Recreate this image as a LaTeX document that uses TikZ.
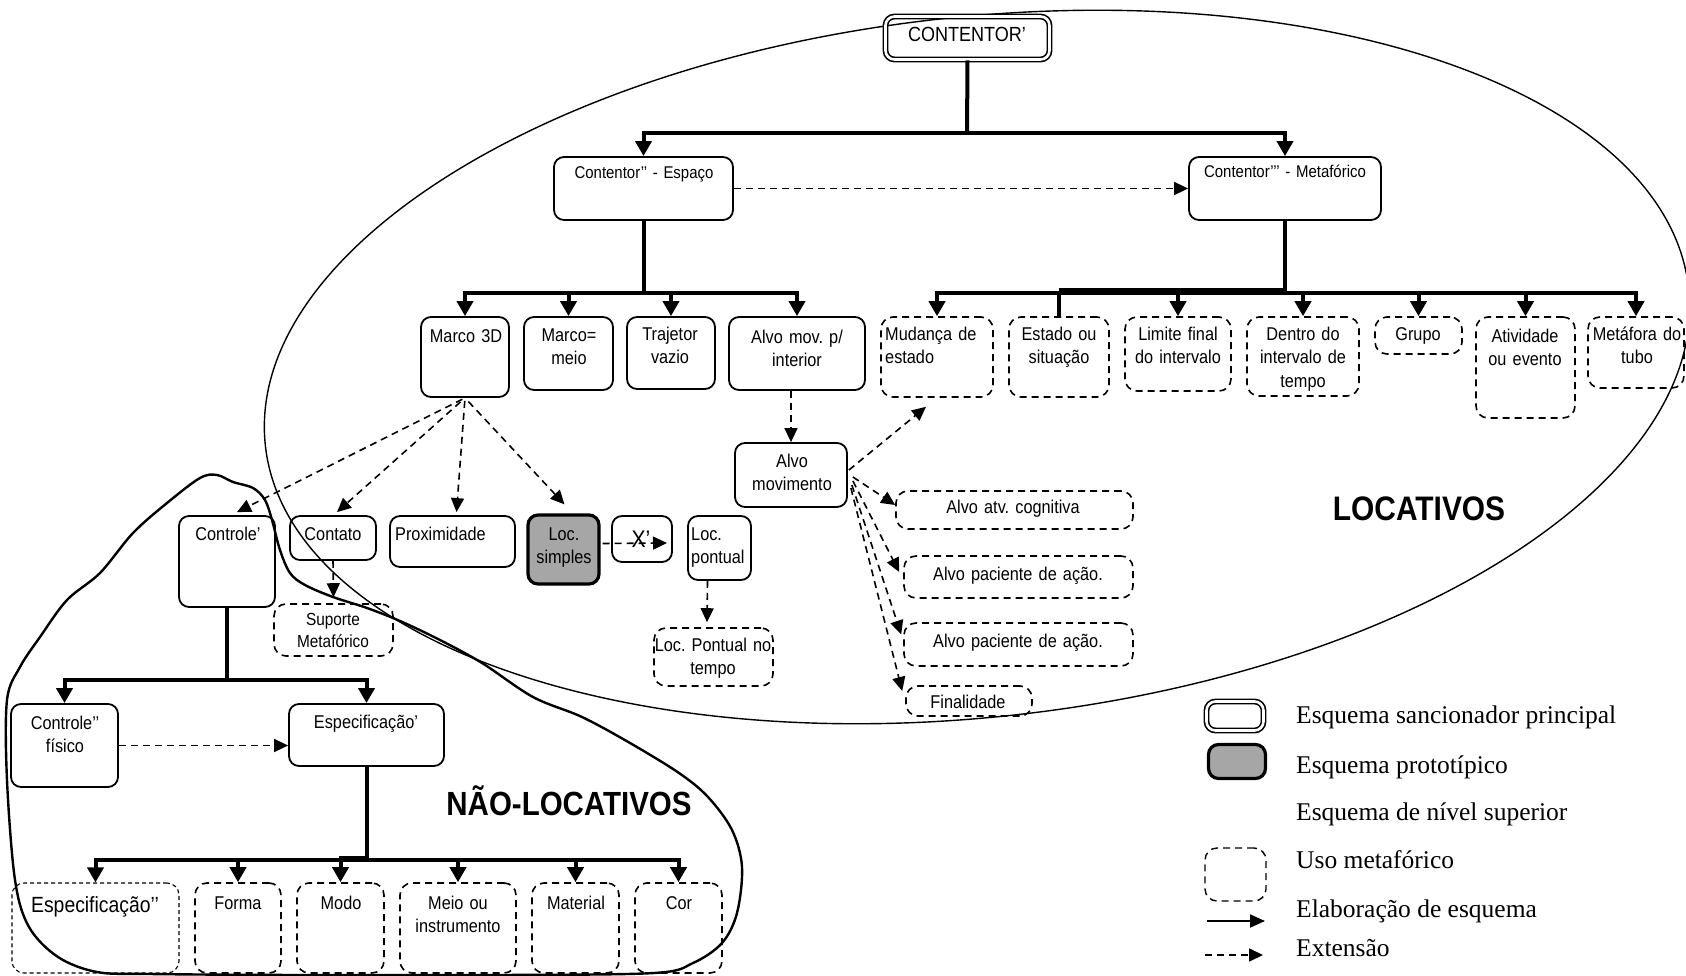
\documentclass[tikz,border=0pt]{standalone}
\usepackage{fontspec}
\usepackage{graphicx}
\usetikzlibrary{arrows.meta,fit,calc}
\newfontfamily\af[FakeStretch=0.88,WordSpace=0.85]{Liberation Sans}
\newfontfamily\tf{Liberation Serif}
\definecolor{protgray}{RGB}{166,166,166}
\frenchspacing
\begin{document}
\begin{tikzpicture}[x=1pt,y=-1pt,
  bx/.style={draw, line width=1.8pt, rounded corners=10pt, inner sep=0pt},
  dbx/.style={draw, line width=1.6pt, dash pattern=on 7pt off 5pt, rounded corners=12pt, inner sep=0pt},
  fdbx/.style={draw, line width=1.1pt, dash pattern=on 4pt off 3pt, rounded corners=12pt, inner sep=0pt},
  dblbx/.style={draw, double, double distance=2.6pt, line width=1.6pt, rounded corners=9pt, inner sep=0pt},
  protbx/.style={draw, fill=protgray, line width=3.2pt, rounded corners=10pt, inner sep=0pt},
  lbl/.style={inner sep=0pt, font=\af\fontsize{18.5}{23.5}\selectfont, text width=300pt, align=center, anchor=base},
  lbll/.style={inner sep=0pt, font=\af\fontsize{18.5}{23.5}\selectfont, text width=300pt, align=left, anchor=base west},
  leg/.style={inner sep=0pt, font=\tf\fontsize{25.5}{30}\selectfont, anchor=base west},
  thk/.style={line width=4pt},
  elab/.style={line width=4pt, -{Triangle[length=15pt,width=16pt]}},
  ext/.style={line width=1.6pt, dash pattern=on 7pt off 5pt, -{Triangle[length=14pt,width=13pt]}},
]
\fill[white] (0,0) rectangle (1686,976);
\useasboundingbox (0,0) rectangle (1686,976);

% regions
\draw[line width=1.4pt, rotate around={6.33:(977,367)}] (977,367) ellipse [x radius=716, y radius=350];
\draw[line width=2.4pt] plot[smooth cycle, tension=0.55] coordinates {
 (217,475) (233,482) (253,488) (265,500) (272,520) (280,550) (290,573) (305,585)
 (333,597) (367,608) (400,621) (440,640) (482,663) (533,697) (582,717) (630,743)
 (679,773) (708,797) (732,830) (742,867) (737,913) (722,943) (693,963) (654,973)
 (500,975) (300,975) (150,974) (97,972) (58,957) (29,927) (15,880) (7,780)
 (7,700) (20,667) (40,637) (67,600) (100,573) (133,533) (167,503) (200,478)};

% boxes
\node[dblbx, fit={(885.5,16.5) (1049.5,59.5)}] (ctr0) {};
\node[bx, fit={(554,157) (733,220)}] (esp) {};
\node[bx, fit={(1189,157) (1381,220)}] (meta) {};
\node[bx, fit={(421,317) (509,397)}] (m3d) {};
\node[bx, fit={(524,317) (613,390)}] (meio) {};
\node[bx, fit={(627,317) (715,389)}] (traj) {};
\node[bx, fit={(729,317) (865,390)}] (alvomi) {};
\node[dbx, fit={(881,317) (993,397)}] (mud) {};
\node[dbx, fit={(1009,317) (1109,397)}] (est) {};
\node[dbx, fit={(1125,317) (1231,391)}] (lim) {};
\node[dbx, fit={(1247,317) (1359,396)}] (den) {};
\node[dbx, fit={(1375,317) (1462,354)}] (gru) {};
\node[dbx, fit={(1476,317) (1575,418)}] (ati) {};
\node[dbx, fit={(1588,317) (1684,388)}] (met) {};
\node[bx, fit={(735,443) (847,507)}] (alvom) {};
\node[dbx, fit={(896,491) (1133,529)}] (atv) {};
\node[dbx, fit={(904,556) (1133,598)}] (pac1) {};
\node[dbx, fit={(904,623) (1133,666)}] (pac2) {};
\node[dbx, fit={(906,686) (1032,716)}] (fin) {};
\node[bx, fit={(179,516) (275,607)}] (ctrl) {};
\node[bx, fit={(290,516) (376,560)}] (cto) {};
\node[bx, fit={(390,516) (515,567)}] (prox) {};
\node[protbx, fit={(528,515) (599,584)}] (locs) {};
\node[bx, fit={(612,516) (672,562)}] (xb) {};
\node[bx, fit={(688,516) (751,580)}] (locp) {};
\node[dbx, fit={(654,628) (773,686)}] (lpt) {};
\node[dbx, fit={(274,604) (393,656)}] (sup) {};
\node[bx, fit={(11,704) (118,787)}] (ctf) {};
\node[bx, fit={(289,704) (444,766)}] (esp1) {};
\node[fdbx, fit={(12,883) (179,973)}] (esp2) {};
\node[dbx, fit={(195,883) (281,973)}] (forma) {};
\node[dbx, fit={(297,883) (384,973)}] (modo) {};
\node[dbx, fit={(400,883) (516,973)}] (meioi) {};
\node[dbx, fit={(532,883) (619,973)}] (mat) {};
\node[dbx, fit={(635,883) (722,973)}] (cor) {};

% labels
\node[lbl, font=\af\fontsize{20.5}{24}\selectfont] (ctr0-t) at (967,42) {CONTENTOR’};
\node[lbl, font=\af\fontsize{17}{21}\selectfont] (esp-t) at (644,179) {Contentor’’ - Espaço};
\node[lbl, font=\af\fontsize{17}{21}\selectfont] (meta-t) at (1285,178) {Contentor’’’ - Metafórico};
\node[lbl] (m3d-t) at (466,342) {Marco 3D};
\node[lbl] (meio-t) at (569,341) {Marco=\\meio};
\node[lbl] (traj-t) at (670,340) {Trajetor\\vazio};
\node[lbl] (alvomi-t) at (797,343) {Alvo mov. p/\\interior};
\node[lbll] (mud-t) at (885,340) {Mudança de\\estado};
\node[lbl] (est-t) at (1059,340) {Estado ou\\situação};
\node[lbl] (lim-t) at (1178,340) {Limite final\\do intervalo};
\node[lbl] (den-t) at (1303,340) {Dentro do\\intervalo de\\tempo};
\node[lbl] (gru-t) at (1418,340) {Grupo};
\node[lbl] (ati-t) at (1525,342) {Atividade\\ou evento};
\node[lbl] (met-t) at (1637,340) {Metáfora do\\tubo};
\node[lbl] (alvom-t) at (792,467) {Alvo\\movimento};
\node[lbl] (atv-t) at (1013,513) {Alvo atv. cognitiva};
\node[lbl] (pac1-t) at (1018,580) {Alvo paciente de ação.};
\node[lbl] (pac2-t) at (1018,647) {Alvo paciente de ação.};
\node[lbl] (fin-t) at (968,708) {Finalidade};
\node[lbl] (ctrl-t) at (228,540) {Controle’};
\node[lbl] (cto-t) at (333,540) {Contato};
\node[lbll] (prox-t) at (395,540) {Proximidade};
\node[lbl] (locs-t) at (564,540) {Loc.\\simples};
\node[lbl, font=\af\fontsize{24}{26}\selectfont] (xb-t) at (641,547) {X’};
\node[lbll] (locp-t) at (691,540) {Loc.\\pontual};
\node[lbl] (lpt-t) at (713,651) {Loc. Pontual no\\tempo};
\node[lbl, font=\af\fontsize{17.5}{22}\selectfont] (sup-t) at (333,625) {Suporte\\Metafórico};
\node[lbl] (ctf-t) at (65,729) {Controle’’\\físico};
\node[lbl] (esp1-t) at (366,728) {Especificação’};
\node[lbl, font=\af\fontsize{22}{26}\selectfont] (esp2-t) at (95,912) {Especificação’’};
\node[lbl] (forma-t) at (238,909) {Forma};
\node[lbl] (modo-t) at (341,909) {Modo};
\node[lbl] (meioi-t) at (458,909) {Meio ou\\instrumento};
\node[lbl] (mat-t) at (576,909) {Material};
\node[lbl] (cor-t) at (679,909) {Cor};

\node[inner sep=0pt, anchor=base, font=\af\bfseries\fontsize{34}{36}\selectfont] (loc) at (1419,520) {LOCATIVOS};
\node[inner sep=0pt, anchor=base, font=\af\bfseries\fontsize{33.5}{36}\selectfont] (nloc) at (569,815) {NÃO-LOCATIVOS};

% elaboration (thick)
\coordinate (t1) at (967,133);
\draw[thk] (ctr0.south) -- (t1);
\draw[elab] (t1) -| (esp.north);
\draw[elab] (t1) -| (meta.north);

\coordinate (t2) at (643.5,293);
\draw[thk] (esp.south) -- (t2);
\foreach \n in {m3d,meio,traj,alvomi} \draw[elab] (t2) -| (\n.north);

\coordinate (t3) at (1285,293);
\draw[thk] (meta.south) -- (t3);
\foreach \n in {mud,lim,den,gru,ati,met} \draw[elab] (t3) -| (\n.north);
\draw[thk] (t3) -| (est.north);
\draw[line width=3pt] (1059,290) -- (1285,290);

\coordinate (t4) at (227,680);
\draw[thk] (ctrl.south) -- (t4);
\draw[elab] (t4) -| (ctf.north);
\draw[elab] (t4) -| (esp1.north);

\coordinate (t5) at (366.5,860);
\draw[thk] (esp1.south) -- (t5);
\foreach \n in {esp2,forma,modo,meioi,mat,cor} \draw[elab] (t5) -| (\n.north);
\draw[line width=3pt] (339,857) -- (366.5,857);

% extensions (dashed)
\draw[ext] (esp.east) -- (meta.west);
\draw[ext, shorten <=3pt] (m3d.south) -- ($(ctrl.north)+(10,-3)$);
\draw[ext, shorten <=6pt] (m3d.south) -- ($(cto.north)+(4,-3)$);
\draw[ext, shorten <=3pt] (m3d.south) -- ($(prox.north)+(4,-3)$);
\draw[ext, shorten <=5pt] (m3d.south) -- ($(locs.north)+(1,-9)$);
\draw[ext] (alvomi.south -| alvom.north) -- (alvom.north);
\coordinate (xend) at (667,543);
\draw[ext] ($(locs.east)+(2,-6)$) -- (xend);
\draw[ext] ($(locp.south)+(-12,0)$) -- ($(lpt.north)+(-6.5,-5)$);
\draw[ext] (cto.south) -- ($(sup.north)+(0,-6)$);
\draw[ext] (ctf.east) -- (ctf.east -| esp1.west);
\draw[ext] ($(alvom.east)+(1,-5)$) -- ($(mud.south)+(-11,9)$);
\draw[ext] ($(alvom.east)+(5,2)$) -- ($(atv.west)+(0,-5)$);
\draw[ext] ($(alvom.east)+(5,6)$) -- ($(pac1.west)+(-4,-5)$);
\draw[ext] ($(alvom.east)+(4,10)$) -- ($(pac2.west)+(-2,-10)$);
\draw[ext] ($(alvom.east)+(3,13)$) -- ($(fin.west)+(-3,-10)$);

% legend
\node[dblbx, fit={(1206.5,701.5) (1263.5,730.5)}] (lg1) {};
\node[protbx, fit={(1208.5,744.5) (1265.5,778.5)}] (lg2) {};
\node[dbx, line width=1.4pt, fit={(1205,848) (1266,901)}] (lg4) {};
\coordinate (la1) at (1207,921);
\coordinate (la2) at (1265,921);
\draw[line width=1.8pt, -{Triangle[length=15pt,width=13pt]}] (la1) -- (la2);
\coordinate (lb1) at (1205,955);
\coordinate (lb2) at (1263,955);
\draw[ext] (lb1) -- (lb2);
\node[leg] (lt1) at (1296,723) {Esquema sancionador principal};
\node[leg] (lt2) at (1296,773) {Esquema prototípico};
\node[leg] (lt3) at (1296,820) {Esquema de nível superior};
\node[leg] (lt4) at (1296,868) {Uso metafórico};
\node[leg] (lt5) at (1296,917) {Elaboração de esquema};
\node[leg] (lt6) at (1296,956) {Extensão};
\end{tikzpicture}
\end{document}
